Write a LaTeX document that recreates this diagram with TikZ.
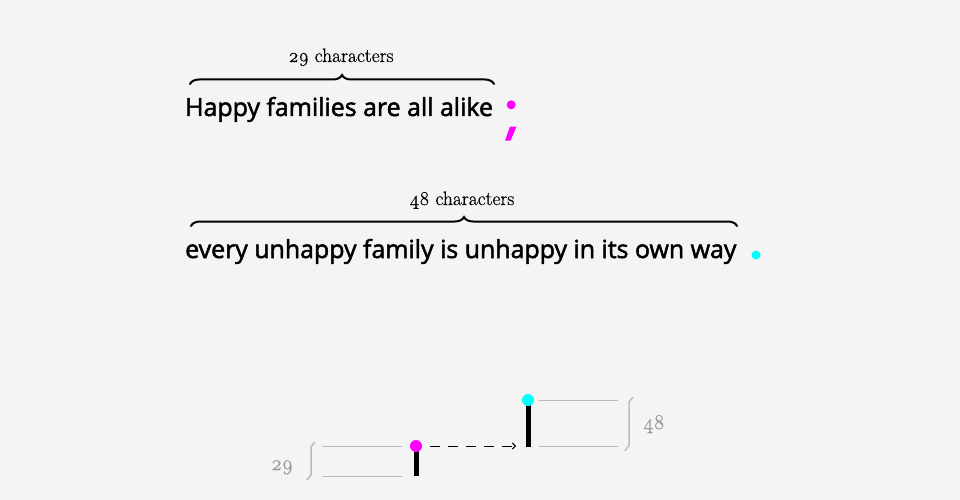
\documentclass[tikz,border=0pt]{standalone}
\usepackage{fontspec}
\newfontfamily\opensb{Open Sans}[FakeBold=2]
\newfontfamily\serifnum{Latin Modern Roman}[Numbers=OldStyle,FakeBold=0.6]
\usetikzlibrary{decorations.pathreplacing,arrows.meta}
\definecolor{bg}{HTML}{F4F4F4}
\definecolor{mag}{HTML}{FF00FF}
\definecolor{cya}{HTML}{00FFFF}
\definecolor{lgray}{HTML}{BBBBBB}
\definecolor{tgray}{HTML}{999999}
\tikzset{
  sent/.style={anchor=base west, inner sep=0pt, font=\opensb\fontsize{24.9}{28}\selectfont},
  lab/.style={inner sep=0pt, anchor=base, font=\serifnum\fontsize{19.5}{22}\selectfont},
  brc/.style={decorate, decoration={brace, amplitude=9pt, aspect=0.5}, line width=2pt, line cap=round},
  gline/.style={draw=lgray, line width=1pt},
  gbrk/.style={draw=lgray, line width=1.5pt},
  bar/.style={line width=5pt},
  numlab/.style={inner sep=0pt, anchor=base, text=tgray, font=\serifnum\fontsize{21}{24}\selectfont},
}
\begin{document}
\begin{tikzpicture}[x=1pt,y=-1pt]
\fill[bg] (0,0) rectangle (960,500);
\useasboundingbox (0,0) rectangle (960,500);
% sentence 1
\node[sent] (s1) at (185,116) {Happy families are all alike};
\coordinate (b1l) at (190,84);
\coordinate (b1r) at (494,84);
\draw[brc] (b1l) -- (b1r);
\node[lab] (l1) at (341,62) {29 characters};
% semicolon
\fill[mag] (511.2,104.8) circle (4.5);
\fill[mag] (510,126.5) -- (516.5,126.5) -- (510.5,140.7) -- (505,140.7) -- cycle;
% sentence 2
\node[sent] (s2) at (185,258) {every unhappy family is unhappy in its own way};
\coordinate (b2l) at (191,226);
\coordinate (b2r) at (737,226);
\draw[brc] (b2l) -- (b2r);
\node[lab] (l2) at (462,205) {48 characters};
% period
\fill[cya] (756,255) circle (4.5);
% bottom diagram
\coordinate (g1a) at (322,446); \coordinate (g1b) at (402,446);
\coordinate (g2a) at (322,476); \coordinate (g2b) at (402,476);
\draw[gline] (g1a) -- (g1b);
\draw[gline] (g2a) -- (g2b);
\coordinate (k1t) at (315,442); \coordinate (k1b) at (307,480);
\draw[gbrk] (k1t) -- (311,447) -- (311,475) -- (k1b);
\node[numlab] (n29) at (282,470) {29};
\coordinate (p1) at (416,446); \coordinate (p1b) at (416,476);
\draw[bar] (p1) -- (p1b);
\node[circle, fill=mag, minimum size=12pt, inner sep=0pt] (d1) at (p1) {};
\coordinate (p2) at (528,400); \coordinate (p2b) at (528,447);
\draw[bar] (p2) -- (p2b);
\node[circle, fill=cya, minimum size=12pt, inner sep=0pt] (d2) at (p2) {};
\coordinate (ae) at (516,446);
\draw[dashed, dash pattern=on 10pt off 8pt, line width=1pt, -{Straight Barb[length=3pt,width=6pt]}] (430,446) -- (ae);
\coordinate (h1a) at (539,400); \coordinate (h1b) at (618,400);
\coordinate (h2a) at (539,446); \coordinate (h2b) at (618,446);
\draw[gline] (h1a) -- (h1b);
\draw[gline] (h2a) -- (h2b);
\coordinate (k2t) at (633,397); \coordinate (k2b) at (625,451);
\draw[gbrk] (k2t) -- (629,402) -- (629,445) -- (k2b);
\node[numlab] (n48) at (654,429) {48};
\end{tikzpicture}
\end{document}
